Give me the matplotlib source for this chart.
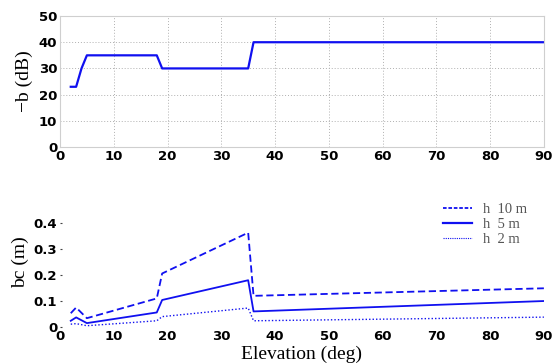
import matplotlib
matplotlib.use("Agg")
import matplotlib.pyplot as plt
from matplotlib.lines import Line2D
from matplotlib.font_manager import FontProperties

# Elevation angles (deg)
elev = [2, 3, 4, 5, 18, 19, 35, 36, 90]
# Suppression level -b (dB)
b_db = [23, 23, 30, 35, 35, 30, 30, 40, 40]

# bc (m) for three antenna heights
elev_bc = [2, 3, 5, 18, 19, 35, 36, 90]
bc_10 = [0.053, 0.075, 0.034, 0.110, 0.206, 0.363, 0.120, 0.149]
bc_5 = [0.024, 0.037, 0.015, 0.056, 0.104, 0.180, 0.060, 0.100]
bc_2 = [0.011, 0.013, 0.005, 0.024, 0.040, 0.073, 0.024, 0.038]
legend_labels = ["h  10 m", "h  5 m", "h  2 m"]

tick_font = dict(family="DejaVu Sans", weight="bold", size=9.5)
label_font = dict(family="Liberation Serif", size=14)
blue = "#1010f0"

fig = plt.figure(figsize=(5.53, 3.64), dpi=100)

# Upper panel
ax1 = fig.add_axes([0.1085, 0.596, 0.875, 0.36])
ax1.plot(elev, b_db, color=blue, lw=1.6)
ax1.set_xlim(0, 90)
ax1.set_ylim(0, 50)
ax1.set_xticks(range(0, 91, 10))
ax1.set_yticks(range(0, 51, 10))
ax1.grid(True, ls=(0, (1, 2)), color="#b0b0b0", lw=0.7)
for s in ax1.spines.values():
    s.set_color("#cfcfcf")
    s.set_linewidth(0.8)
ax1.tick_params(length=0, pad=2)
for lab in ax1.get_xticklabels() + ax1.get_yticklabels():
    lab.set_fontproperties(FontProperties(**tick_font))
ax1.set_ylabel("\u2212b (dB)", fontdict=label_font, labelpad=4)

# Lower panel
ax2 = fig.add_axes([0.1085, 0.1016, 0.875, 0.357])
ax2.plot(elev_bc, bc_10, color=blue, lw=1.3, ls=(0, (4, 2)))
ax2.plot(elev_bc, bc_5, color=blue, lw=1.3, ls="-")
ax2.plot(elev_bc, bc_2, color=blue, lw=1.0, ls=(0, (1, 1.5)))
ax2.set_xlim(0, 90)
ax2.set_ylim(0, 0.5)
ax2.set_xticks(range(0, 91, 10))
ax2.set_yticks([0, 0.1, 0.2, 0.3, 0.4])
ax2.set_yticklabels(["0", "0.1", "0.2", "0.3", "0.4"])
for s in ax2.spines.values():
    s.set_visible(False)
ax2.tick_params(axis="x", length=0, pad=2)
ax2.tick_params(axis="y", length=1.5, direction="in", color="#444444", pad=2)
for lab in ax2.get_xticklabels() + ax2.get_yticklabels():
    lab.set_fontproperties(FontProperties(**tick_font))
ax2.set_ylabel("bc (m)", fontdict=label_font, labelpad=3)
ax2.set_xlabel("Elevation (deg)", fontdict=label_font, labelpad=2)

handles = [
    Line2D([], [], color=blue, lw=1.3, ls=(0, (2, 1))),
    Line2D([], [], color=blue, lw=1.6, ls="-"),
    Line2D([], [], color=blue, lw=0.8, ls=(0, (1, 1))),
]
leg = ax2.legend(handles, legend_labels, loc="upper left",
                 bbox_to_anchor=(0.765, 1.06), frameon=False,
                 prop=dict(family="Liberation Serif", size=10.5),
                 handlelength=2.0, handletextpad=0.7, labelspacing=0.15)
for t in leg.get_texts():
    t.set_color("#555555")

fig.savefig("out.png", dpi=100)
